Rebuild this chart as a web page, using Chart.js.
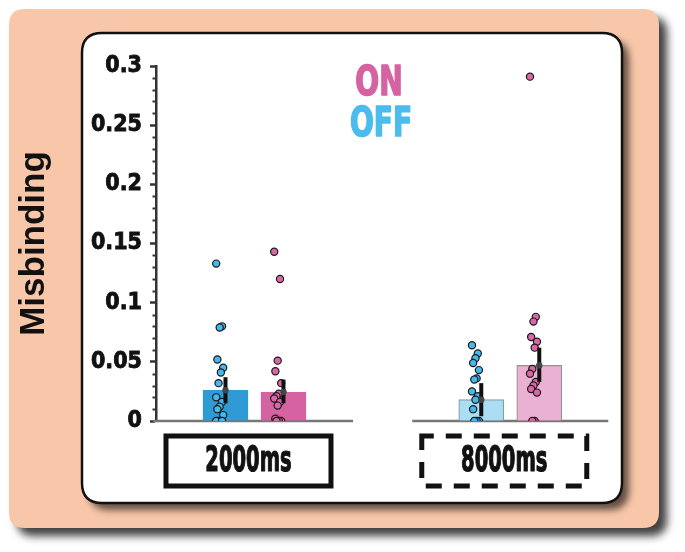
<!DOCTYPE html>
<html>
<head>
<meta charset="utf-8">
<script src="https://cdn.jsdelivr.net/npm/chart.js@4.4.1/dist/chart.umd.min.js"></script>
<style>
  html, body { margin: 0; padding: 0; background: #ffffff; }
  canvas { display: block; }
</style>
</head>
<body>
<canvas id="c" width="685" height="552"></canvas>
<script>
// ---------------- data ----------------
const groups = ['2000ms', '8000ms'];
const conditions = ['ON', 'OFF'];
// bar order: 2000ms OFF, 2000ms ON, 8000ms OFF, 8000ms ON
const barMeans = [0.026, 0.0245, 0.018, 0.047];
const errLow   = [0.015, 0.015, 0.004, 0.033];
const errHigh  = [0.037, 0.035, 0.032, 0.062];
const off2000 = [0.133, 0.080, 0.079, 0.052, 0.045, 0.041, 0.032, 0.020, 0.016, 0.012, 0.010, 0.005, 0, 0, 0, 0];
const on2000  = [0.143, 0.120, 0.051, 0.042, 0.032, 0.023, 0.021, 0.019, 0.016, 0.013, 0.002, 0, 0, 0];
const off8000 = [0.064, 0.057, 0.053, 0.049, 0.043, 0.036, 0.035, 0.025, 0.021, 0.018, 0.010, 0, 0, 0];
const on8000  = [0.291, 0.088, 0.084, 0.071, 0.067, 0.062, 0.044, 0.040, 0.033, 0.030, 0.027, 0.024, 0, 0];
const yTickLabels = ['0', '0.05', '0.1', '0.15', '0.2', '0.25', '0.3'];

// ---------------- layout / style ----------------
const barX = [1, 2, 5.41, 6.41];
const barFill = ['#2f9ad4', '#d563a2', '#a9def4', '#eab1d2'];
const barBorder = ['#2f9ad4', '#d563a2', '#8f9aa0', '#9a8f95'];
const dotFill = ['#45b8ec', '#da67a8', '#45b8ec', '#da67a8'];
const dotSets = [off2000, on2000, off8000, on8000];
const NARROW = '"Liberation Sans Narrow", "DejaVu Sans Condensed", "Liberation Sans", sans-serif';

function jitter(i) { return -0.1 + (((i * 5) % 7) - 3) * 0.02; }

const scatterSets = dotSets.map((vals, k) => ({
  type: 'scatter',
  data: vals.map((v, i) => ({ x: barX[k] + jitter(i), y: v })),
  backgroundColor: dotFill[k],
  borderColor: '#1a1a1a',
  borderWidth: 1.2,
  pointRadius: 3.6,
  pointHoverRadius: 3.6,
  order: 1
}));

function roundRect(ctx, x, y, w, h, r) {
  ctx.beginPath();
  ctx.moveTo(x + r, y);
  ctx.lineTo(x + w - r, y);
  ctx.quadraticCurveTo(x + w, y, x + w, y + r);
  ctx.lineTo(x + w, y + h - r);
  ctx.quadraticCurveTo(x + w, y + h, x + w - r, y + h);
  ctx.lineTo(x + r, y + h);
  ctx.quadraticCurveTo(x, y + h, x, y + h - r);
  ctx.lineTo(x, y + r);
  ctx.quadraticCurveTo(x, y, x + r, y);
  ctx.closePath();
}

function heavyText(ctx, text, x, y, sx, stroke) {
  ctx.save();
  ctx.translate(x, y);
  ctx.scale(sx, 1);
  ctx.strokeStyle = ctx.fillStyle;
  ctx.lineWidth = stroke;
  ctx.lineJoin = 'round';
  ctx.strokeText(text, 0, 0);
  ctx.fillText(text, 0, 0);
  ctx.restore();
}

const decor = {
  id: 'decor',
  beforeDraw(chart) {
    const ctx = chart.ctx;
    ctx.save();
    ctx.fillStyle = '#ffffff';
    ctx.fillRect(0, 0, chart.width, chart.height);
    // peach panel
    ctx.shadowColor = 'rgba(0,0,0,0.75)';
    ctx.shadowBlur = 9;
    ctx.shadowOffsetX = 8;
    ctx.shadowOffsetY = 8;
    roundRect(ctx, 9, 9, 650, 519, 16);
    ctx.fillStyle = '#f8c6a8';
    ctx.fill();
    // white panel
    ctx.shadowColor = 'rgba(0,0,0,0.6)';
    ctx.shadowBlur = 7;
    ctx.shadowOffsetX = 7;
    ctx.shadowOffsetY = 7;
    roundRect(ctx, 82, 33, 540, 470, 20);
    ctx.fillStyle = '#ffffff';
    ctx.fill();
    ctx.shadowColor = 'transparent';
    ctx.lineWidth = 2.5;
    ctx.strokeStyle = '#111';
    ctx.stroke();
    ctx.restore();
  },
  beforeDatasetsDraw(chart) {
    const ctx = chart.ctx;
    const xs = chart.scales.x, ys = chart.scales.y;
    const y0 = ys.getPixelForValue(0);
    ctx.save();
    // minor ticks
    ctx.strokeStyle = '#333';
    ctx.lineWidth = 2;
    const left = chart.chartArea.left;
    ys.ticks.forEach((t, i) => {
      if (i % 5 !== 0) {
        const py = Math.round(ys.getPixelForValue(t.value)) + 0.5;
        ctx.beginPath();
        ctx.moveTo(left - 3.5, py);
        ctx.lineTo(left, py);
        ctx.stroke();
      }
    });
    // baselines for each group
    ctx.strokeStyle = '#777';
    ctx.lineWidth = 2.5;
    [[-0.25, 3.2], [4.22, 7.6]].forEach(([a, b]) => {
      ctx.beginPath();
      ctx.moveTo(xs.getPixelForValue(a), y0);
      ctx.lineTo(xs.getPixelForValue(b), y0);
      ctx.stroke();
    });
    ctx.restore();
  },
  afterDatasetsDraw(chart) {
    const ctx = chart.ctx;
    const xs = chart.scales.x, ys = chart.scales.y;
    ctx.save();
    // error bars
    barX.forEach((bx, k) => {
      const px = xs.getPixelForValue(bx);
      ctx.strokeStyle = '#111';
      ctx.lineWidth = 4;
      ctx.beginPath();
      ctx.moveTo(px, ys.getPixelForValue(errLow[k]));
      ctx.lineTo(px, ys.getPixelForValue(errHigh[k]));
      ctx.stroke();
      ctx.fillStyle = '#444';
      ctx.beginPath();
      ctx.arc(px, ys.getPixelForValue(barMeans[k]), 3.2, 0, Math.PI * 2);
      ctx.fill();
    });
    ctx.restore();
  },
  afterDraw(chart) {
    const ctx = chart.ctx;
    const xs = chart.scales.x;
    const area = chart.chartArea;
    ctx.save();
    // ON / OFF legend text
    const cx = (area.left + area.right) / 2;
    ctx.textAlign = 'center';
    ctx.textBaseline = 'alphabetic';
    ctx.font = 'bold 40px ' + NARROW;
    ctx.fillStyle = '#d563a2';
    heavyText(ctx, conditions[0], cx - 3, 95, 0.78, 1.5);
    ctx.fillStyle = '#4bbcec';
    heavyText(ctx, conditions[1], cx - 1, 136, 0.78, 1.5);
    // group label boxes
    const centers = [(barX[0] + barX[1]) / 2, (barX[2] + barX[3]) / 2];
    centers.forEach((c, g) => {
      const mid = xs.getPixelForValue(c) - 6;
      const w = 165, h = 50, top = 436;
      ctx.strokeStyle = '#111';
      ctx.lineWidth = 5;
      if (g === 1) { ctx.setLineDash([16, 12]); ctx.lineDashOffset = 4; } else { ctx.setLineDash([]); }
      ctx.strokeRect(mid - w / 2, top, w, h);
      ctx.setLineDash([]);
      ctx.fillStyle = '#111';
      ctx.font = 'bold 35px ' + NARROW;
      ctx.textBaseline = 'middle';
      heavyText(ctx, groups[g], mid, top + h / 2 + 1, 0.62, 1.2);
    });
    ctx.restore();
  }
};

new Chart(document.getElementById('c'), {
  data: {
    datasets: [
      {
        type: 'bar',
        data: barMeans.map((v, k) => ({ x: barX[k], y: v })),
        backgroundColor: barFill,
        borderColor: barBorder,
        borderWidth: 1.2,
        barThickness: 45,
        order: 2
      },
      ...scatterSets
    ]
  },
  options: {
    responsive: false,
    devicePixelRatio: 1,
    animation: false,
    events: [],
    layout: { padding: { top: 66, right: 77, bottom: 131, left: 0 } },
    plugins: {
      legend: { display: false },
      tooltip: { enabled: false },
      title: { display: false }
    },
    scales: {
      x: {
        type: 'linear',
        display: false,
        offset: false,
        min: -0.198,
        max: 7.595
      },
      y: {
        min: 0,
        max: 0.3,
        afterFit(scale) { scale.width = 156; },
        border: { display: true, color: '#333', width: 2.5 },
        grid: {
          drawOnChartArea: false,
          drawTicks: true,
          tickLength: 6,
          tickWidth: 2.5,
          tickColor: (ctx) => (ctx.index % 5 === 0 ? '#333' : 'rgba(0,0,0,0)')
        },
        ticks: {
          stepSize: 0.01,
          autoSkip: false,
          padding: 8,
          color: '#111',
          textStrokeColor: '#111',
          textStrokeWidth: 0.8,
          font: { family: NARROW, size: 23, weight: 'bold' },
          callback: (v, i) => (i % 5 === 0 ? yTickLabels[i / 5] : '')
        },
        title: {
          display: true,
          text: 'Misbinding',
          color: '#111',
          font: { family: '"Liberation Sans", Arial, sans-serif', size: 35, weight: 'bold' },
          padding: { top: 13, bottom: 0 }
        }
      }
    }
  },
  plugins: [decor]
});
</script>
</body>
</html>
